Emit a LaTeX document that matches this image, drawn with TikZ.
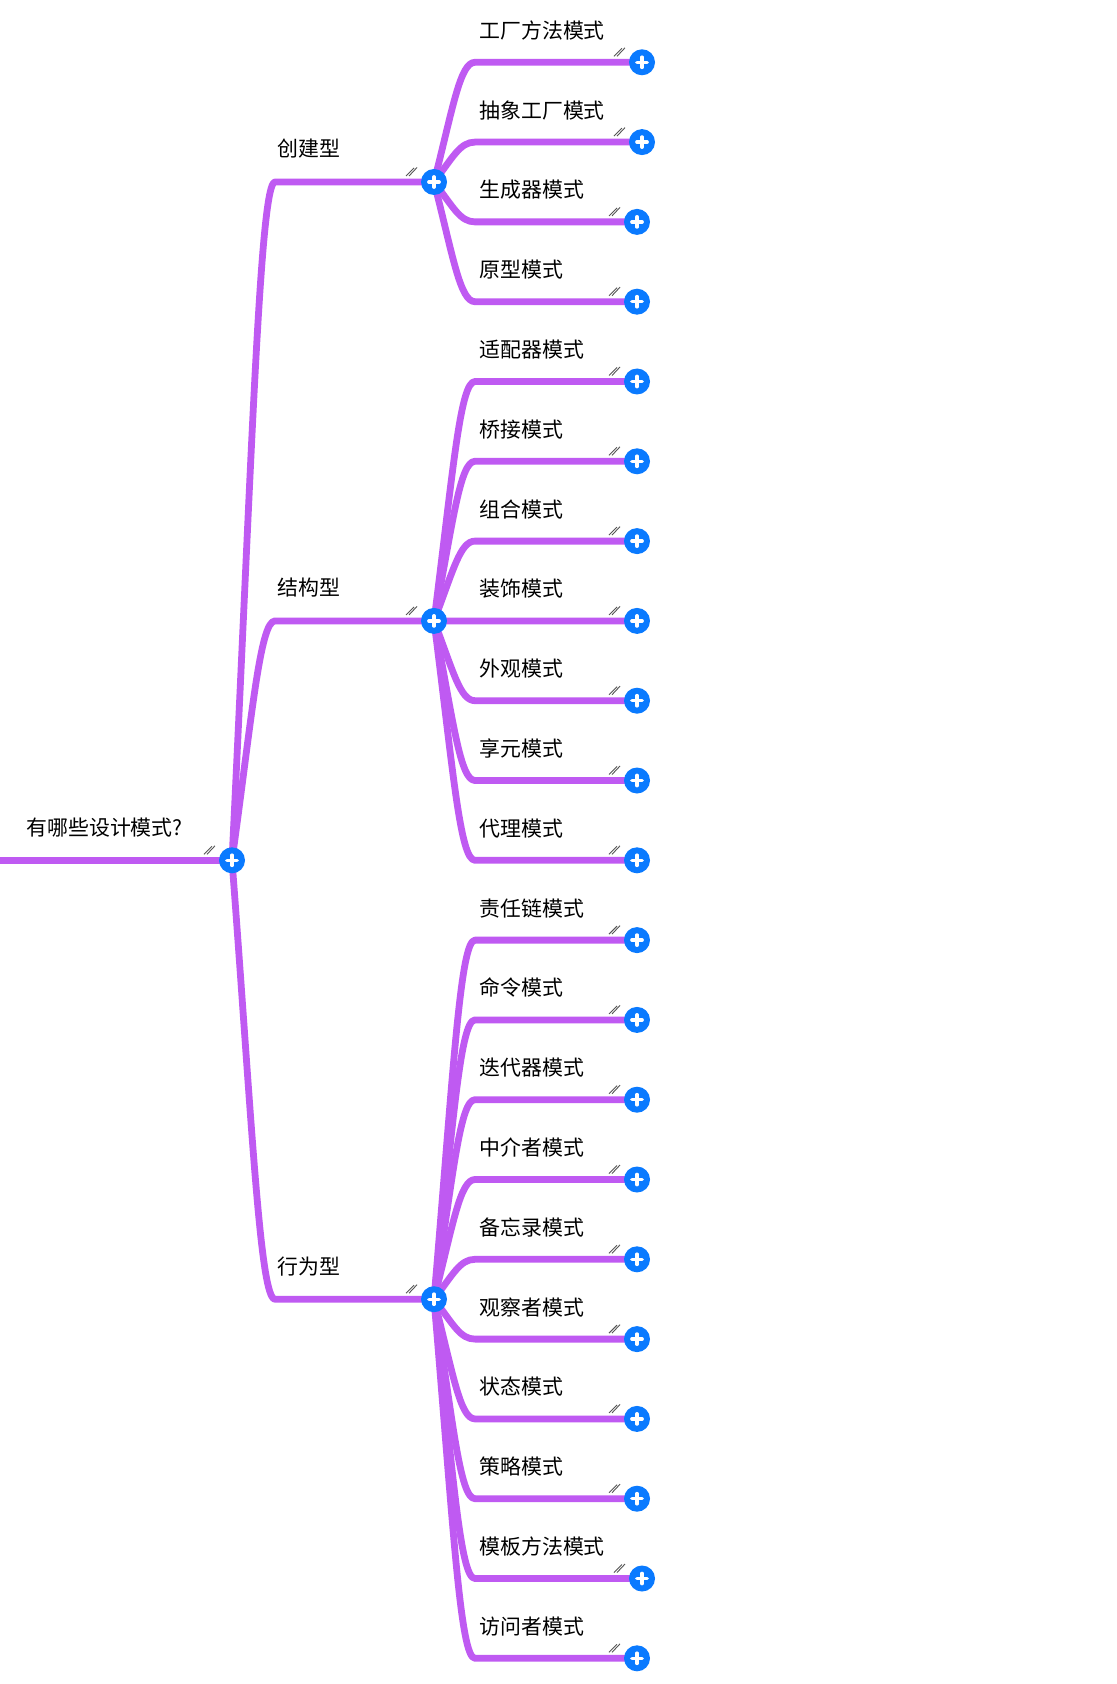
\documentclass[tikz,border=0pt]{standalone}
\usepackage{fontspec}
\setmainfont{Noto Sans CJK SC}
\usetikzlibrary{calc}
\definecolor{br}{HTML}{BF5AF2}
\definecolor{pl}{HTML}{0A7AFF}
\definecolor{hd}{HTML}{555555}
\pgfdeclarelayer{fg}
\pgfsetlayers{main,fg}
\tikzset{
  branch/.style={draw=br, line width=3.4pt, line cap=round, line join=round},
  lbl/.style={anchor=west, inner sep=0pt, font=\fontsize{10.45pt}{12pt}\selectfont, text=black},
  knob/.style={circle, fill=pl, minimum size=13pt, inner sep=0pt},
  plusbar/.style={white, line width=1.65pt, line cap=round},
  handle/.style={hd, line width=0.45pt},
}
\newcommand\knob[2]{%
  \begin{pgfonlayer}{fg}
    \node[knob] (#1) at (#2) {};
    \draw[plusbar] ($(#1)+(-5.2,0)$) -- ($(#1)+(5.2,0)$)
                   ($(#1)+(0,-5.2)$) -- ($(#1)+(0,5.2)$);
  \end{pgfonlayer}
  \draw[handle] ($(#1)+(-28,-6)$) -- ($(#1)+(-20,-14)$)
                ($(#1)+(-25,-6)$) -- ($(#1)+(-17,-14.5)$);
}
% parent node, parent y, row, label, end x
\newcommand\kid[5]{%
  \pgfmathsetmacro\yy{62.3+79.8*#3}%
  \pgfmathsetmacro\ya{#2+0.62*(\yy-#2)}%
  \knob{k#3}{#5,\yy}
  \node[lbl] (t#3) at (479,\yy-32) {#4};
  \draw[branch] (#1.center) .. controls (453,\ya) and (460,\yy) .. (475,\yy) -- (k#3.center);
}
% parent, level1 y, name, label
\newcommand\grp[4]{%
  \pgfmathsetmacro\yb{860.3+0.6*(#2-860.3)}%
  \knob{#3}{434,#2}
  \node[lbl] (l#3) at (277,#2-33) {#4};
  \draw[branch] (#1.center) .. controls (252,\yb) and (260,#2) .. (275,#2) -- (#3.center);
}
\begin{document}
\begin{tikzpicture}[x=0.5pt, y=-0.5pt]
  \fill[white] (0,0) rectangle (1116,1684);
  \useasboundingbox (0,0) rectangle (1116,1684);

  % root
  \coordinate (rs) at (-10,860.3);
  \knob{r0}{232,860.3}
  \node[lbl] (root) at (26,828) {有哪些设计模式?};
  \draw[branch] (rs) -- (r0.center);

  % level 1
  \grp{r0}{182.0}{c1}{创建型}
  \grp{r0}{620.9}{c2}{结构型}
  \grp{r0}{1299.2}{c3}{行为型}

  % level 2
  \kid{c1}{182.0}{0}{工厂方法模式}{642}
  \kid{c1}{182.0}{1}{抽象工厂模式}{642}
  \kid{c1}{182.0}{2}{生成器模式}{637}
  \kid{c1}{182.0}{3}{原型模式}{637}

  \kid{c2}{620.9}{4}{适配器模式}{637}
  \kid{c2}{620.9}{5}{桥接模式}{637}
  \kid{c2}{620.9}{6}{组合模式}{637}
  \kid{c2}{620.9}{7}{装饰模式}{637}
  \kid{c2}{620.9}{8}{外观模式}{637}
  \kid{c2}{620.9}{9}{享元模式}{637}
  \kid{c2}{620.9}{10}{代理模式}{637}

  \kid{c3}{1299.2}{11}{责任链模式}{637}
  \kid{c3}{1299.2}{12}{命令模式}{637}
  \kid{c3}{1299.2}{13}{迭代器模式}{637}
  \kid{c3}{1299.2}{14}{中介者模式}{637}
  \kid{c3}{1299.2}{15}{备忘录模式}{637}
  \kid{c3}{1299.2}{16}{观察者模式}{637}
  \kid{c3}{1299.2}{17}{状态模式}{637}
  \kid{c3}{1299.2}{18}{策略模式}{637}
  \kid{c3}{1299.2}{19}{模板方法模式}{642}
  \kid{c3}{1299.2}{20}{访问者模式}{637}
\end{tikzpicture}
\end{document}
